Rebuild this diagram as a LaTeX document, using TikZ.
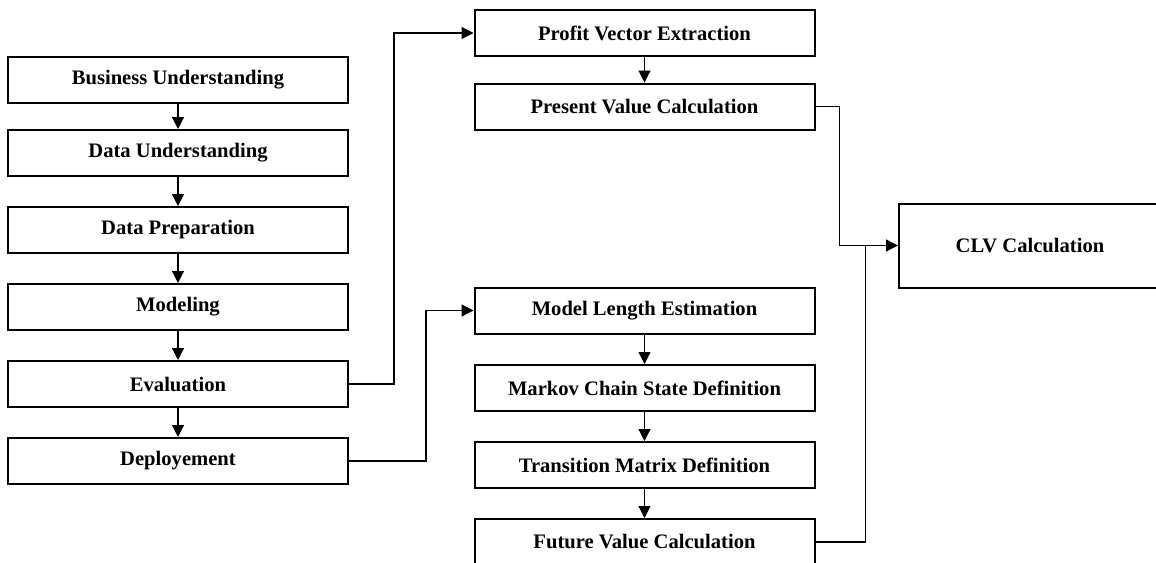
\documentclass[tikz,border=0pt]{standalone}
\usepackage{fontspec}
\setmainfont{Liberation Serif}
\usetikzlibrary{arrows.meta,calc}
\begin{document}
\begin{tikzpicture}[x=0.5pt,y=-0.5pt,
  stepbox/.style={draw=black,line width=1pt,minimum width=170pt,minimum height=23pt,inner sep=0pt,
    font=\fontsize{10.3}{12}\selectfont\bfseries},
  bigbox/.style={stepbox,minimum width=131pt,minimum height=42pt},
  arr/.style={line width=0.6pt,-{Triangle[length=6pt,width=6pt]}},
  ln/.style={line width=0.6pt}]
\clip (0,0) rectangle (1156,562);
\fill[white] (0,0) rectangle (1156,562);
% left column
\node[stepbox] (bu) at (178,80) {Business Understanding};
\node[stepbox] (du) at (178,153) {Data Understanding};
\node[stepbox] (dp) at (178,230) {Data Preparation};
\node[stepbox] (mo) at (178,307) {Modeling};
\node[stepbox] (ev) at (178,384) {Evaluation};
\node[stepbox] (de) at (178,461) {Deployement};
% right column
\node[stepbox] (pv) at (644.5,33) {Profit Vector Extraction};
\node[stepbox] (pr) at (644.5,106.5) {Present Value Calculation};
\node[stepbox] (ml) at (644.5,310.5) {Model Length Estimation};
\node[stepbox] (mc) at (644.5,388) {Markov Chain State Definition};
\node[stepbox] (tm) at (644.5,465) {Transition Matrix Definition};
\node[stepbox] (fv) at (644.5,542) {Future Value Calculation};
% CLV
\node[bigbox] (clv) at (1030,245.5) {CLV Calculation};
% vertical arrows
\draw[arr] (bu) -- (du);
\draw[arr] (du) -- (dp);
\draw[arr] (dp) -- (mo);
\draw[arr] (mo) -- (ev);
\draw[arr] (ev) -- (de);
\draw[arr] (pv) -- (pr);
\draw[arr] (ml) -- (mc);
\draw[arr] (mc) -- (tm);
\draw[arr] (tm) -- (fv);
% elbow connectors
\draw[arr] (ev.east) -- ++(45,0) |- (pv.west);
\draw[arr] (de.east) -- ++(77,0) |- (ml.west);
\draw[arr] (pr.east) -- ++(24,0) |- (clv.west);
\draw[ln] (fv.east) -- ++(50,0) coordinate (fj) -- (fj |- clv.west);
\end{tikzpicture}
\end{document}
